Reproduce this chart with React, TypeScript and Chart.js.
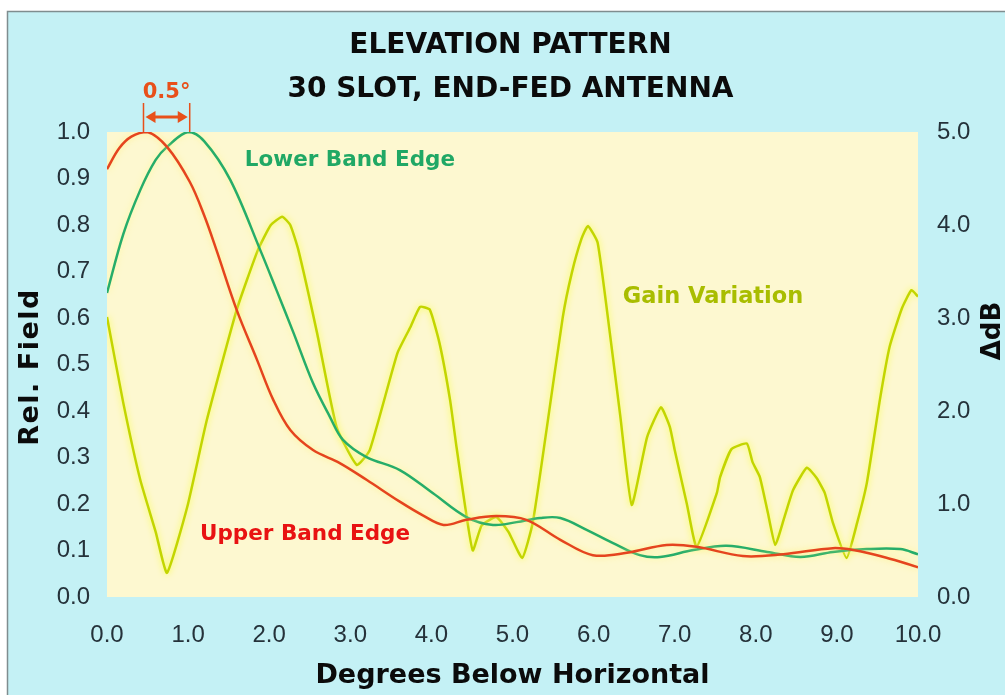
import React, { useEffect, useRef } from "react";
import { Chart, registerables } from "chart.js";

Chart.register(...registerables);

const TITLE_LINES = ["ELEVATION PATTERN", "30 SLOT, END-FED ANTENNA"];
const X_TITLE = "Degrees Below Horizontal";
const Y_TITLE = "Rel. Field";
const Y2_TITLE = "ΔdB";
const LOWER_LABEL = "Lower Band Edge";
const UPPER_LABEL = "Upper Band Edge";
const GAIN_LABEL = "Gain Variation";
const OFFSET_LABEL = "0.5°";

// Upper band edge (relative field)
const upperX = [0, 0.15, 0.3, 0.5, 0.74, 1.02, 1.2, 1.35, 1.6, 1.85, 2.05, 2.26, 2.54, 2.87, 3.2, 3.61, 3.9, 4.15, 4.43, 4.8, 5.17, 5.59, 5.99, 6.41, 6.9, 7.27, 7.84, 8.34, 8.95, 9.2, 9.6, 10];
const upperY = [0.92, 0.965, 0.99, 1.0, 0.968, 0.893, 0.82, 0.746, 0.617, 0.51, 0.424, 0.359, 0.316, 0.288, 0.252, 0.205, 0.175, 0.155, 0.166, 0.174, 0.166, 0.123, 0.09, 0.095, 0.112, 0.108, 0.088, 0.092, 0.105, 0.101, 0.085, 0.064];

// Lower band edge (relative field)
const lowerX = [0, 0.2, 0.41, 0.6, 0.74, 1.0, 1.2, 1.52, 1.89, 2.09, 2.3, 2.54, 2.75, 2.91, 3.2, 3.61, 4.02, 4.43, 4.76, 5.05, 5.34, 5.59, 5.92, 6.24, 6.57, 6.82, 7.23, 7.64, 8.14, 8.55, 8.95, 9.37, 9.78, 10];
const lowerY = [0.654, 0.78, 0.875, 0.94, 0.968, 1.0, 0.98, 0.897, 0.746, 0.66, 0.568, 0.46, 0.387, 0.338, 0.301, 0.273, 0.223, 0.172, 0.155, 0.161, 0.17, 0.17, 0.144, 0.116, 0.09, 0.086, 0.101, 0.11, 0.097, 0.086, 0.097, 0.103, 0.103, 0.092];

// Gain variation (dB, right axis)
const gainX = [0, 0.2, 0.41, 0.6, 0.74, 0.99, 1.23, 1.6, 1.86, 2.02, 2.16, 2.26, 2.36, 2.59, 2.83, 3.08, 3.24, 3.58, 3.74, 3.86, 3.98, 4.1, 4.23, 4.31, 4.42, 4.51, 4.62, 4.8, 4.95, 5.12, 5.25, 5.42, 5.62, 5.73, 5.85, 5.93, 6.05, 6.2, 6.33, 6.47, 6.66, 6.83, 6.94, 7.0, 7.15, 7.27, 7.52, 7.56, 7.7, 7.89, 7.96, 8.05, 8.15, 8.24, 8.35, 8.46, 8.63, 8.75, 8.85, 8.95, 9.12, 9.25, 9.37, 9.53, 9.65, 9.8, 9.92, 10];
const gainDb = [3.01, 2.09, 1.26, 0.7, 0.26, 0.97, 1.9, 3.09, 3.73, 4.0, 4.09, 4.0, 3.73, 2.84, 1.83, 1.42, 1.58, 2.62, 2.9, 3.12, 3.09, 2.73, 2.12, 1.61, 0.95, 0.5, 0.77, 0.86, 0.7, 0.42, 0.8, 1.8, 3.01, 3.48, 3.85, 3.99, 3.81, 2.84, 1.94, 0.99, 1.72, 2.04, 1.83, 1.58, 1.0, 0.54, 1.12, 1.29, 1.59, 1.65, 1.45, 1.29, 0.9, 0.56, 0.85, 1.15, 1.39, 1.28, 1.12, 0.8, 0.42, 0.8, 1.23, 2.12, 2.69, 3.1, 3.3, 3.23];

// Axis ranges / steps
const X_RANGE = [0, 10];
const X_STEP = 1;
const FIELD_RANGE = [0, 1];
const FIELD_STEP = 0.1;
const DB_RANGE = [0, 5];
const DB_STEP = 1;

// Annotation anchors (data coordinates)
const OFFSET_FROM = 0.45;
const OFFSET_TO = 1.02;
const LOWER_LABEL_AT = [1.7, 0.944];
const UPPER_LABEL_AT = [1.147, 0.14];
const GAIN_LABEL_AT = [6.36, 0.649];

const toPoints = (xs: number[], ys: number[]) => xs.map((x, i) => ({ x, y: ys[i] }));

const W = 1005;
const H = 695;
const FONT = "'Liberation Sans', Arial, sans-serif";
const BOLD_FONT = "'DejaVu Sans', 'Liberation Sans', sans-serif";

function drawText(ctx: CanvasRenderingContext2D, text: string, x: number, capCenterY: number, size: number, color: string, align: CanvasTextAlign, spacing = 0) {
  ctx.save();
  ctx.font = `bold ${size}px ${BOLD_FONT}`;
  (ctx as any).letterSpacing = `${spacing}px`;
  ctx.fillStyle = color;
  ctx.textAlign = align;
  ctx.textBaseline = "alphabetic";
  ctx.fillText(text, x, capCenterY + size * 0.364);
  ctx.restore();
}

const decorPlugin = {
  id: "decor",
  beforeDraw(chart: any) {
    const { ctx, chartArea } = chart;
    ctx.save();
    ctx.fillStyle = "#ffffff";
    ctx.fillRect(0, 0, W, H);
    ctx.fillStyle = "#c4f1f5";
    ctx.fillRect(7, 11, W - 7, H - 11);
    ctx.strokeStyle = "#7f8d8f";
    ctx.lineWidth = 1.5;
    ctx.beginPath();
    ctx.moveTo(7.5, H);
    ctx.lineTo(7.5, 11.5);
    ctx.lineTo(W, 11.5);
    ctx.stroke();
    ctx.fillStyle = "#fdf8d0";
    ctx.fillRect(chartArea.left, chartArea.top, chartArea.right - chartArea.left, chartArea.bottom - chartArea.top);
    ctx.restore();
  },
  beforeDatasetDraw(chart: any, args: any) {
    const ctx = chart.ctx;
    ctx.save();
    const ds = chart.data.datasets[args.index];
    ctx.shadowColor = ds.glow || "rgba(255,255,120,0.8)";
    ctx.shadowBlur = 6;
  },
  afterDatasetDraw(chart: any) {
    chart.ctx.restore();
  },
  afterDraw(chart: any) {
    const { ctx } = chart;
    const xs = chart.scales.x;
    const ys = chart.scales.y;
    const cx = W / 2 + 8;

    // Titles
    drawText(ctx, TITLE_LINES[0], cx, 43, 28, "#0b0b0b", "center");
    drawText(ctx, TITLE_LINES[1], cx, 87, 28, "#0b0b0b", "center");
    drawText(ctx, X_TITLE, (xs.left + xs.right) / 2, 673, 27, "#0b0b0b", "center");

    // Left axis title
    ctx.save();
    ctx.translate(28, 367);
    ctx.rotate(-Math.PI / 2);
    drawText(ctx, Y_TITLE, 0, 0, 27, "#0b0b0b", "center", 1.5);
    ctx.restore();

    // Right axis title (reads bottom to top)
    ctx.save();
    ctx.translate(991, 331);
    ctx.rotate(-Math.PI / 2);
    drawText(ctx, Y2_TITLE, 0, 0, 26, "#0b0b0b", "center");
    ctx.restore();

    // Series labels
    drawText(ctx, LOWER_LABEL, xs.getPixelForValue(LOWER_LABEL_AT[0]), ys.getPixelForValue(LOWER_LABEL_AT[1]), 21.5, "#20a865", "left");
    drawText(ctx, UPPER_LABEL, xs.getPixelForValue(UPPER_LABEL_AT[0]), ys.getPixelForValue(UPPER_LABEL_AT[1]), 21.5, "#e81212", "left");
    drawText(ctx, GAIN_LABEL, xs.getPixelForValue(GAIN_LABEL_AT[0]), ys.getPixelForValue(GAIN_LABEL_AT[1]), 22.5, "#a9bd00", "left");

    // 0.5° offset marker
    const xa = xs.getPixelForValue(OFFSET_FROM);
    const xb = xs.getPixelForValue(OFFSET_TO);
    const yTop = ys.getPixelForValue(FIELD_RANGE[1]);
    const col = "#e8501a";
    ctx.save();
    ctx.strokeStyle = col;
    ctx.fillStyle = col;
    ctx.lineWidth = 1.5;
    ctx.beginPath();
    ctx.moveTo(xa, yTop - 29);
    ctx.lineTo(xa, yTop);
    ctx.moveTo(xb, yTop - 29);
    ctx.lineTo(xb, yTop);
    ctx.stroke();
    const ay = yTop - 15;
    ctx.lineWidth = 3;
    ctx.beginPath();
    ctx.moveTo(xa + 8, ay);
    ctx.lineTo(xb - 8, ay);
    ctx.stroke();
    ctx.beginPath();
    ctx.moveTo(xa + 2, ay);
    ctx.lineTo(xa + 12, ay - 6);
    ctx.lineTo(xa + 12, ay + 6);
    ctx.closePath();
    ctx.fill();
    ctx.beginPath();
    ctx.moveTo(xb - 2, ay);
    ctx.lineTo(xb - 12, ay - 6);
    ctx.lineTo(xb - 12, ay + 6);
    ctx.closePath();
    ctx.fill();
    ctx.restore();
    drawText(ctx, OFFSET_LABEL, (xa + xb) / 2, yTop - 42, 21, col, "center");
  },
};

export default function App() {
  const ref = useRef<HTMLCanvasElement | null>(null);
  useEffect(() => {
    if (!ref.current) return;
    const tickFont = { family: FONT, size: 24 };
    const tickColor = "#25323a";
    const chart = new Chart(ref.current, {
      type: "line",
      data: {
        datasets: [
          {
            label: UPPER_LABEL,
            data: toPoints(upperX, upperY),
            borderColor: "#e5441e",
            borderWidth: 2.5,
            pointRadius: 0,
            tension: 0.35,
            yAxisID: "y",
            order: 1,
            glow: "rgba(255,240,120,0.8)",
          } as any,
          {
            label: LOWER_LABEL,
            data: toPoints(lowerX, lowerY),
            borderColor: "#26ad6a",
            borderWidth: 2.5,
            pointRadius: 0,
            tension: 0.35,
            yAxisID: "y",
            order: 2,
            glow: "rgba(255,250,140,0.8)",
          } as any,
          {
            label: GAIN_LABEL,
            data: toPoints(gainX, gainDb),
            borderColor: "#c3d500",
            borderWidth: 2.5,
            pointRadius: 0,
            tension: 0.15,
            yAxisID: "y1",
            order: 3,
            glow: "rgba(250,255,60,0.95)",
          } as any,
        ],
      },
      options: {
        animation: false,
        responsive: false,
        devicePixelRatio: 1,
        layout: { padding: { top: 132, left: 0, right: 0, bottom: 0 } },
        plugins: { legend: { display: false }, title: { display: false }, tooltip: { enabled: false } },
        scales: {
          x: {
            type: "linear",
            min: X_RANGE[0],
            max: X_RANGE[1],
            grid: { display: false, drawTicks: false },
            border: { display: false },
            afterFit: (s: any) => { s.height = 98; },
            ticks: {
              stepSize: X_STEP,
              padding: 24,
              font: tickFont,
              color: tickColor,
              maxRotation: 0,
              callback: (v: any) => Number(v).toFixed(1),
            },
          },
          y: {
            type: "linear",
            position: "left",
            min: FIELD_RANGE[0],
            max: FIELD_RANGE[1],
            grid: { display: false, drawTicks: false },
            border: { display: false },
            afterFit: (s: any) => { s.width = 107; },
            ticks: {
              stepSize: FIELD_STEP,
              padding: 17,
              font: tickFont,
              color: tickColor,
              callback: (v: any) => Number(v).toFixed(1),
            },
          },
          y1: {
            type: "linear",
            position: "right",
            min: DB_RANGE[0],
            max: DB_RANGE[1],
            grid: { display: false, drawTicks: false },
            border: { display: false },
            afterFit: (s: any) => { s.width = 87; },
            ticks: {
              stepSize: DB_STEP,
              padding: 19,
              font: tickFont,
              color: tickColor,
              callback: (v: any) => Number(v).toFixed(1),
            },
          },
        },
      } as any,
      plugins: [decorPlugin],
    });
    return () => chart.destroy();
  }, []);
  return (
    <div style={{ position: "fixed", left: 0, top: 0, width: W, height: H }}>
      <canvas ref={ref} width={W} height={H} style={{ width: W, height: H, display: "block" }} />
    </div>
  );
}
